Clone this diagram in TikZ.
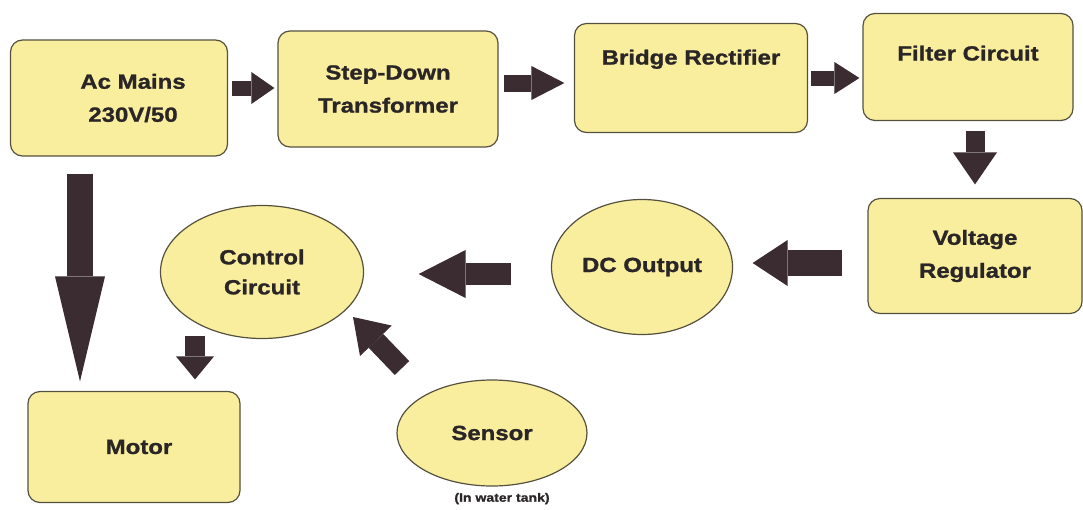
\documentclass[tikz,border=0pt]{standalone}
\usepackage{fontspec}
\usetikzlibrary{arrows.meta,shapes.geometric,calc}
\newfontfamily\blk[FakeStretch=1.17, BoldFeatures={FakeBold=1.2}]{Liberation Sans}
\definecolor{boxfill}{HTML}{F8EE9E}
\definecolor{boxline}{HTML}{56503F}
\definecolor{arrowc}{HTML}{3A2C30}
\definecolor{txtc}{HTML}{2A2526}
\tikzset{
  lbl/.style={font=\blk\bfseries\fontsize{20.5}{33}\selectfont, text=txtc, align=center},
  box/.style={lbl, draw=boxline, line width=1.2pt, fill=boxfill, rounded corners=12pt, inner sep=0pt},
  oval/.style={lbl, ellipse, draw=boxline, line width=1.2pt, fill=boxfill, inner sep=0pt},
  blockarrow/.style n args={3}{draw=arrowc, line width=#1, -{Triangle[length=#2, width=#3, line width=0pt, fill=arrowc]}},
}
\begin{document}
\begin{tikzpicture}[x=1pt, y=-1pt]
\useasboundingbox (0,0) rectangle (1083,509);
\fill[white] (0,0) rectangle (1083,509);

% boxes
\node[box, minimum width=217pt, minimum height=116pt] (ac) at (119,98) {\hspace*{28pt}Ac Mains\\\hspace*{28pt}230V/50};
\node[box, minimum width=220pt, minimum height=116pt] (sd) at (388,89) {Step-Down\\Transformer};
\node[box, minimum width=233pt, minimum height=109pt, text height=15pt, text depth=42pt] (br) at (691,78) {Bridge Rectifier};
\node[box, minimum width=210pt, minimum height=107pt, text height=15pt, text depth=28pt] (fc) at (968,67) {Filter Circuit};
\node[box, minimum width=214pt, minimum height=115pt] (vr) at (975,256) {Voltage\\Regulator};
\node[box, minimum width=212pt, minimum height=111pt] (mo) at (134,447) {\hspace*{10pt}Motor};

% ellipses
\node[oval, minimum width=181pt, minimum height=135pt] (dc) at (642,267) {DC Output};
\node[oval, minimum width=203pt, minimum height=133pt, font=\blk\bfseries\fontsize{20.5}{30}\selectfont] (cc) at (262,272) {Control\\Circuit};
\node[oval, minimum width=190pt, minimum height=106pt] (se) at (492,433) {Sensor};
\node[lbl, font=\blk\bfseries\fontsize{12}{14}\selectfont, anchor=center] (cap) at ($(se.south)+(10,12)$) {(In water tank)};

% block arrows
\draw[blockarrow={15pt}{23pt}{32pt}] ($(ac.east)+(3.5,-10)$) -- ($(sd.west)+(-3,-1)$);
\draw[blockarrow={17pt}{33pt}{34pt}] ($(sd.east)+(5,-6)$) -- ($(br.west)+(-9.5,5)$);
\draw[blockarrow={15pt}{25pt}{32pt}] ($(br.east)+(2.5,0)$) -- ($(fc.west)+(-3,11)$);
\draw[blockarrow={19pt}{32pt}{44pt}] ($(fc.south)+(7,9.5)$) -- ($(vr.north)+(0,-13.5)$);
\draw[blockarrow={26pt}{35pt}{46pt}] ($(vr.west)+(-25,7)$) -- ($(dc.east)+(19.5,-4)$);
\draw[blockarrow={22pt}{47pt}{48pt}] ($(dc.west)+(-39.5,7)$) -- ($(cc.east)+(54.5,2)$);
\draw[blockarrow={26pt}{105pt}{50pt}] ($(ac.south)+(-39,17)$) -- ($(mo.north)+(-54,-9.5)$);
\draw[blockarrow={20pt}{23pt}{38pt}] ($(cc.south)+(-67,-3.5)$) -- ($(mo.north)+(61,-11.5)$);
\draw[blockarrow={20pt}{33pt}{44pt}] ($(se.center)+(-90,-65)$) -- ($(cc.center)+(91,45)$);
\end{tikzpicture}
\end{document}
